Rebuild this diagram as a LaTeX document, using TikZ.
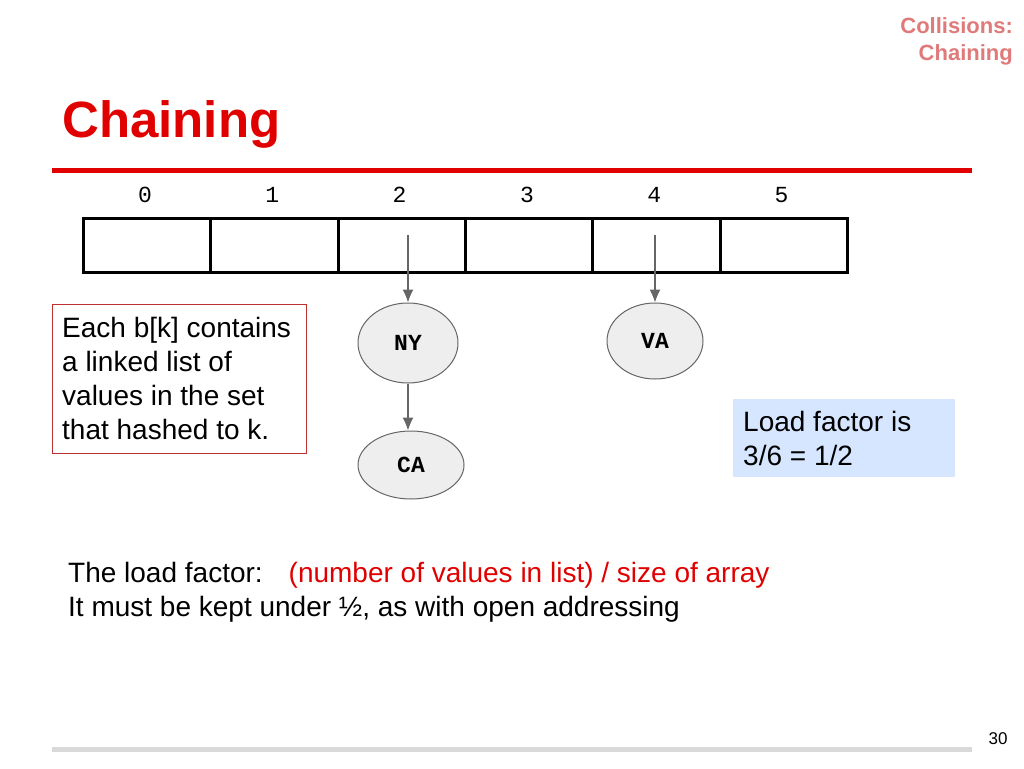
\documentclass[tikz,border=0pt]{standalone}
\usepackage{fontspec}
\setmainfont{Liberation Sans}
\newfontfamily\monof{Liberation Mono}
\definecolor{tred}{HTML}{E00000}
\definecolor{pinkred}{HTML}{E07A7A}
\definecolor{boxred}{HTML}{C03030}
\definecolor{lblue}{HTML}{D6E6FF}
\definecolor{nodegray}{HTML}{EEEEEE}
\definecolor{edgegray}{HTML}{666666}
\tikzset{
  cell/.style={draw=black,line width=3pt,minimum width=127.3pt,minimum height=54pt,inner sep=0pt,anchor=north west},
  idx/.style={font=\monof\fontsize{23}{24}\selectfont},
  lnode/.style={ellipse,draw=edgegray,fill=nodegray,line width=1pt,font=\monof\bfseries\fontsize{23}{24}\selectfont,inner sep=0pt},
  link/.style={draw=edgegray,line width=1.2pt,-{Latex[length=13pt,width=11pt]}},
  body/.style={font=\fontsize{28}{34}\selectfont,align=left,anchor=north west,inner sep=0pt}
}
\usetikzlibrary{shapes.geometric,arrows.meta}
\begin{document}
\begin{tikzpicture}[x=1pt,y=-1pt]
\useasboundingbox (0,0) rectangle (1024,768);
\node[anchor=east,text=pinkred,font=\bfseries\fontsize{22}{27}\selectfont,align=right,inner sep=0pt] (hdr) at (1013,41) {Collisions:\\Chaining};
\node[anchor=west,text=tred,font=\bfseries\fontsize{51}{54}\selectfont,inner sep=0pt] (title) at (62,124) {Chaining};
\draw[tred,line width=5pt] (52,170) -- (972,170);
\foreach \i in {0,...,5}{
  \node[cell] (c\i) at ({82+127.3*\i},217) {};
  \node[idx] (n\i) at ({145+127.3*\i},195) {\i};
}
\node[lnode,minimum width=100pt,minimum height=80pt] (ny) at (408,343) {NY};
\node[lnode,minimum width=96pt,minimum height=76pt] (va) at (655,341) {VA};
\node[lnode,minimum width=106pt,minimum height=68pt] (ca) at (411,465) {CA};
\coordinate (s2) at (408,235);
\coordinate (s4) at (655,235);
\draw[link] (s2) -- (ny.north);
\draw[link] (s4) -- (va.north);
\draw[link] (ny.south) -- (ny.south |- ca.north);
\node[draw=boxred,line width=0.8pt,minimum width=254pt,minimum height=149pt,anchor=north west] (info) at (52,304) {};
\node[body] (infot) at (62,317) {Each b[k] contains\\a linked list of\\values in the set\\that hashed to k.};
\node[fill=lblue,minimum width=222pt,minimum height=78pt,anchor=north west] (lf) at (733,399) {};
\node[body] (lft) at (743,411) {Load factor is\\3/6 = 1/2};
\node[body] (b1) at (68,562) {The load factor: \ \ \textcolor{tred}{(number of values in list) / size of array}\\It must be kept under ½, as with open addressing};
\draw[black!15,line width=5pt] (52,749) -- (972,749);
\node[font=\fontsize{17}{18}\selectfont,inner sep=0pt] (pg) at (998,739) {30};
\end{tikzpicture}
\end{document}
